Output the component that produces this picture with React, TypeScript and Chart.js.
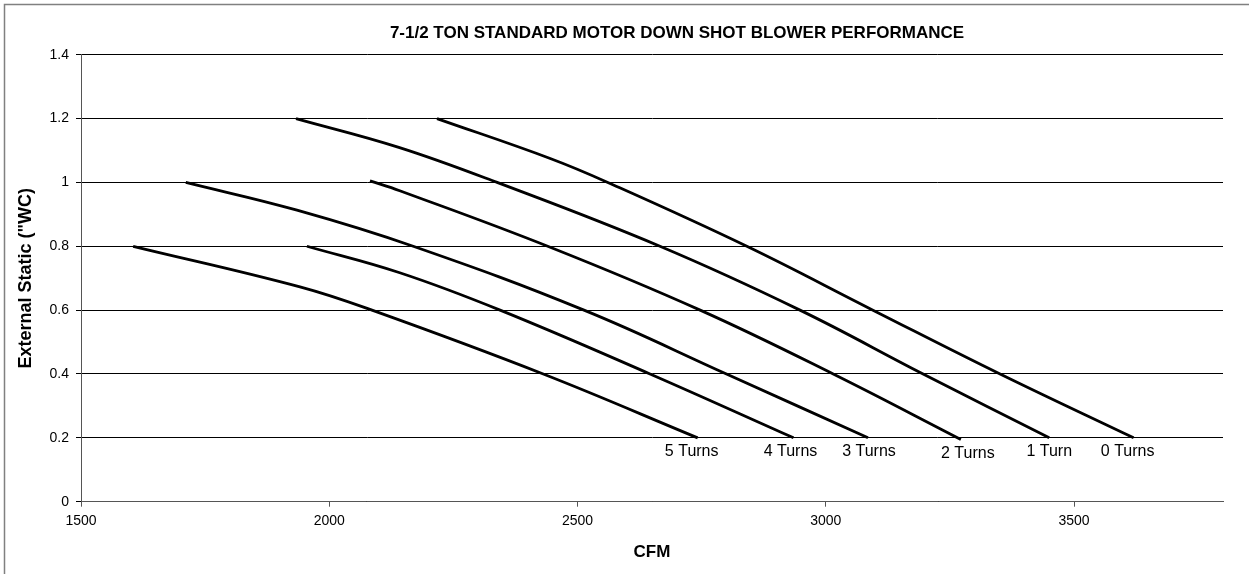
import React, { useEffect, useRef } from "react";
import { Chart, registerables } from "chart.js";

Chart.register(...registerables);

const chartTitle = "7-1/2 TON STANDARD MOTOR DOWN SHOT BLOWER PERFORMANCE";
const xTitle = "CFM";
const yTitle = "External Static (\"WC)";

const seriesNames = ["0 Turns", "1 Turn", "2 Turns", "3 Turns", "4 Turns", "5 Turns"];

const cfm0 = [2217, 2445, 2561, 2841, 3095, 3351, 3620];
const static0 = [1.2, 1.075, 1.0, 0.8, 0.6, 0.4, 0.2];

const cfm1 = [1933, 2140, 2338, 2666, 2948, 3196, 3450];
const static1 = [1.2, 1.11, 1.0, 0.8, 0.6, 0.4, 0.2];

const cfm2 = [2082, 2142, 2445, 2747, 3015, 3272];
const static2 = [1.005, 0.974, 0.797, 0.6, 0.4, 0.195];

const cfm3 = [1711, 1935, 2169, 2513, 2800, 3085];
const static3 = [1.0, 0.913, 0.8, 0.6, 0.4, 0.2];

const cfm4 = [1955, 2142, 2344, 2646, 2935];
const static4 = [0.8, 0.717, 0.6, 0.4, 0.2];

const cfm5 = [1605, 1941, 2086, 2431, 2742];
const static5 = [0.8, 0.673, 0.6, 0.4, 0.2];

const seriesCfm = [cfm0, cfm1, cfm2, cfm3, cfm4, cfm5];
const seriesStatic = [static0, static1, static2, static3, static4, static5];

const xTickValues = [1500, 2000, 2500, 3000, 3500];
const yTickValues = [0, 0.2, 0.4, 0.6, 0.8, 1, 1.2, 1.4];
const xMin = 1500;
const xMax = 3800;
const yMin = 0;
const yMax = 1.4;

// horizontal nudges (px) of the end labels, style only
const labelNudge = [-6, 0, 7, 1, -3, -6];

const FONT = "Arial, 'Liberation Sans', sans-serif";

const decorPlugin = {
  id: "decor",
  beforeDraw(chart: any) {
    const ctx = chart.ctx;
    ctx.save();
    ctx.fillStyle = "#ffffff";
    ctx.fillRect(0, 0, chart.width, chart.height);
    ctx.restore();
  },
  afterDraw(chart: any) {
    const ctx = chart.ctx;
    const { left, right, top, bottom } = chart.chartArea;
    ctx.save();
    ctx.strokeStyle = "#808080";
    ctx.lineWidth = 1.5;
    ctx.strokeRect(4.5, 4.5, chart.width + 10, chart.height + 10);

    ctx.fillStyle = "#000";
    ctx.textAlign = "center";
    ctx.textBaseline = "middle";
    ctx.font = `bold 17px ${FONT}`;
    ctx.fillText(chartTitle, 677, 33);

    ctx.font = `bold 17px ${FONT}`;
    ctx.fillText(xTitle, (left + right) / 2, 552);

    ctx.save();
    ctx.font = `bold 18px ${FONT}`;
    ctx.translate(26, (top + bottom) / 2);
    ctx.rotate(-Math.PI / 2);
    ctx.fillText(yTitle, 0, 0);
    ctx.restore();

    ctx.font = `16px ${FONT}`;
    chart.data.datasets.forEach((ds: any, i: number) => {
      const meta = chart.getDatasetMeta(i);
      const pt = meta.data[meta.data.length - 1];
      if (pt) ctx.fillText(ds.label, pt.x + (labelNudge[i] || 0), pt.y + 14);
    });
    ctx.restore();
  },
};

export default function App() {
  const canvasRef = useRef<HTMLCanvasElement | null>(null);

  useEffect(() => {
    if (!canvasRef.current) return;
    const datasets = seriesNames.map((name, i) => ({
      label: name,
      data: seriesCfm[i].map((c, j) => ({ x: c, y: seriesStatic[i][j] })),
      borderColor: "#000",
      backgroundColor: "#000",
      borderWidth: 2.8,
      pointRadius: 0,
      showLine: true,
      tension: 0.4,
      fill: false,
    }));

    const chart = new Chart(canvasRef.current, {
      type: "scatter",
      data: { datasets },
      plugins: [decorPlugin],
      options: {
        animation: false,
        responsive: false,
        maintainAspectRatio: false,
        layout: { padding: { left: 0, right: 26, top: 54.7, bottom: 0 } },
        plugins: {
          legend: { display: false },
          tooltip: { enabled: false },
          title: { display: false },
        },
        scales: {
          x: {
            type: "linear",
            min: xMin,
            max: xMax,
            afterBuildTicks: (s: any) => {
              s.ticks = xTickValues.map((v) => ({ value: v }));
            },
            afterFit: (s: any) => {
              s.height = 72.3;
            },
            ticks: {
              color: "#000",
              font: { family: FONT, size: 14 },
              padding: 6,
              maxRotation: 0,
              autoSkip: false,
              callback: (v: any) => String(v),
            },
            grid: {
              drawOnChartArea: false,
              tickLength: 5,
              color: "#555",
            },
            border: { color: "#555", width: 1 },
          },
          y: {
            type: "linear",
            min: yMin,
            max: yMax,
            afterBuildTicks: (s: any) => {
              s.ticks = yTickValues.map((v) => ({ value: v }));
            },
            afterFit: (s: any) => {
              s.width = 81;
            },
            ticks: {
              color: "#000",
              font: { family: FONT, size: 14 },
              padding: 7,
              autoSkip: false,
              callback: (v: any) => String(Math.round(Number(v) * 10) / 10),
            },
            grid: {
              color: "#000",
              lineWidth: 1,
              tickLength: 5,
            },
            border: { color: "#555", width: 1 },
          },
        },
      } as any,
    });
    return () => chart.destroy();
  }, []);

  return (
    <div style={{ position: "fixed", left: 0, top: 0, width: 1249, height: 574, overflow: "hidden", background: "#fff" }}>
      <canvas ref={canvasRef} width={1249} height={574} style={{ display: "block", width: 1249, height: 574 }} />
    </div>
  );
}
